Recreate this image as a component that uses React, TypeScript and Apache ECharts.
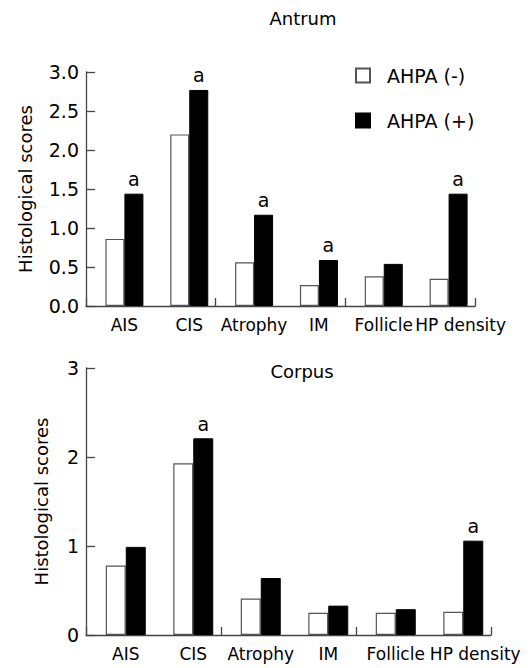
import React, { useEffect, useRef } from "react";
import * as echarts from "echarts";

const categories = ["AIS", "CIS", "Atrophy", "IM", "Follicle", "HP density"];
const antrumNeg = [0.86, 2.2, 0.56, 0.27, 0.38, 0.35];
const antrumPos = [1.44, 2.77, 1.17, 0.59, 0.54, 1.44];
const antrumSig = [true, true, true, true, false, true];
const corpusNeg = [0.78, 1.93, 0.41, 0.25, 0.25, 0.26];
const corpusPos = [0.99, 2.21, 0.64, 0.33, 0.29, 1.06];
const corpusSig = [false, true, false, false, false, true];
const antrumTicks = [0, 0.5, 1.0, 1.5, 2.0, 2.5, 3.0];
const corpusTicks = [0, 1, 2, 3];

const FONT = "DejaVu Sans";

export default function App() {
  const ref = useRef<HTMLDivElement>(null);
  useEffect(() => {
    if (!ref.current) return;
    const chart = echarts.init(ref.current, null, { renderer: "svg" });
    const lineStyle = { color: "#444", width: 1.3 };
    const labelFont = { color: "#000", fontFamily: FONT, fontSize: 17 };
    // visible axis (line + ticks), labels drawn by the bar axis
    const xAxisVisible = (gridIndex: number) => ({
      type: "category" as const,
      gridIndex,
      data: categories,
      axisLine: { show: true, lineStyle },
      axisTick: { show: true, inside: true, length: 8, lineStyle },
      axisLabel: { show: false },
    });
    const xAxisBars = (gridIndex: number) => ({
      type: "category" as const,
      gridIndex,
      data: categories,
      axisLine: { show: false },
      axisTick: { show: false },
      axisLabel: {
        ...labelFont,
        margin: 10,
        interval: 0,
        formatter: (v: string, i: number) => (i === categories.length - 1 ? `{last|${v}}` : v),
        rich: { last: { ...labelFont, padding: [0, 0, 0, 24] } },
      },
    });
    const yAxisVisible = (gridIndex: number, ticks: number[], decimals: number, nameGap: number) => ({
      type: "value" as const,
      gridIndex,
      min: ticks[0],
      max: ticks[ticks.length - 1],
      interval: ticks[1] - ticks[0],
      name: "Histological scores",
      nameLocation: "middle" as const,
      nameGap,
      nameTextStyle: { color: "#000", fontFamily: FONT, fontSize: 18 },
      axisLine: { show: true, lineStyle },
      axisTick: { show: true, inside: true, length: 9, lineStyle },
      splitLine: { show: false },
      axisLabel: {
        color: "#000",
        fontFamily: FONT,
        fontSize: 19,
        margin: 7,
        formatter: (v: number) => v.toFixed(decimals),
      },
    });
    const yAxisBars = (gridIndex: number, ticks: number[]) => ({
      type: "value" as const,
      gridIndex,
      min: ticks[0],
      max: ticks[ticks.length - 1],
      interval: ticks[1] - ticks[0],
      show: false,
      splitLine: { show: false },
    });
    const negStyle = { color: "#fff", borderColor: "#555", borderWidth: 1.2 };
    const posStyle = { color: "#000", borderColor: "#000", borderWidth: 1 };
    const sigLabel = (sig: boolean[]) => ({
      show: true,
      position: "top" as const,
      distance: 5,
      color: "#000",
      fontFamily: FONT,
      fontSize: 19,
      formatter: (p: any) => (sig[p.dataIndex] ? "a" : ""),
    });
    const titleStyle = { color: "#000", fontFamily: FONT, fontSize: 18, fontWeight: "normal" as const };
    chart.setOption({
      animation: false,
      backgroundColor: "#fff",
      title: [
        { text: "Antrum", left: 303, top: 9, textAlign: "center", padding: 0, textStyle: titleStyle },
        { text: "Corpus", left: 302, top: 362, textAlign: "center", padding: 0, textStyle: titleStyle },
      ],
      legend: {
        orient: "vertical",
        left: 355,
        top: 66,
        padding: 0,
        itemWidth: 14,
        itemHeight: 14,
        itemGap: 26,
        icon: "rect",
        textStyle: { color: "#000", fontFamily: FONT, fontSize: 19, padding: [0, 0, 0, 12] },
        data: ["AHPA (-)", "AHPA (+)"],
      },
      grid: [
        { left: 86, right: 56, top: 72, bottom: 362 },
        { left: 92, right: 50, top: 72, bottom: 362 },
        { left: 86, right: 40, top: 368, bottom: 33 },
        { left: 92, right: 34, top: 368, bottom: 33 },
      ],
      xAxis: [xAxisVisible(0), xAxisBars(1), xAxisVisible(2), xAxisBars(3)],
      yAxis: [
        yAxisVisible(0, antrumTicks, 1, 52),
        yAxisBars(1, antrumTicks),
        yAxisVisible(2, corpusTicks, 0, 36),
        yAxisBars(3, corpusTicks),
      ],
      series: [
        {
          name: "AHPA (-)",
          type: "bar",
          xAxisIndex: 1,
          yAxisIndex: 1,
          data: antrumNeg,
          barWidth: 19,
          barGap: "0%",
          itemStyle: negStyle,
        },
        {
          name: "AHPA (+)",
          type: "bar",
          xAxisIndex: 1,
          yAxisIndex: 1,
          data: antrumPos,
          barWidth: 19,
          barGap: "0%",
          itemStyle: posStyle,
          label: sigLabel(antrumSig),
        },
        {
          name: "AHPA (-)",
          type: "bar",
          xAxisIndex: 3,
          yAxisIndex: 3,
          data: corpusNeg,
          barWidth: 20,
          barGap: "0%",
          itemStyle: negStyle,
        },
        {
          name: "AHPA (+)",
          type: "bar",
          xAxisIndex: 3,
          yAxisIndex: 3,
          data: corpusPos,
          barWidth: 20,
          barGap: "0%",
          itemStyle: posStyle,
          label: sigLabel(corpusSig),
        },
      ],
    });
    return () => chart.dispose();
  }, []);
  return <div ref={ref} style={{ width: 531, height: 668, position: "absolute", left: 0, top: 0 }} />;
}
